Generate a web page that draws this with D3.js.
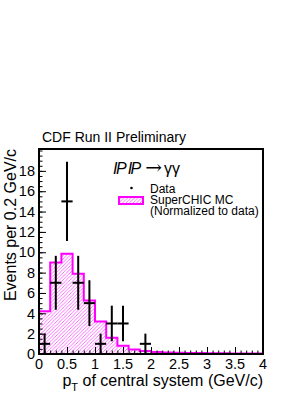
<!DOCTYPE html>
<html>
<head>
<meta charset="utf-8">
<script src="https://cdn.jsdelivr.net/npm/d3@7"></script>
<style>
  body { margin: 0; background: #fff; }
  text { font-family: "Liberation Sans", Arial, sans-serif; }
</style>
</head>
<body>
<svg id="chart" width="305" height="395"></svg>
<script>
// MC histogram, 0.2 GeV/c bins from 0 to 4
const binEdgesStart = [0, 0.2, 0.4, 0.6, 0.8, 1.0, 1.2, 1.4, 1.6, 1.8,
                       2.0, 2.2, 2.4, 2.6, 2.8, 3.0, 3.2, 3.4, 3.6, 3.8];
const mcValues = [4.2, 9.0, 9.85, 7.9, 5.25, 3.2, 1.6, 0.8, 0.45, 0.3,
                  0.2, 0.15, 0.12, 0.1, 0.1, 0.08, 0.07, 0.06, 0.05, 0.05];

// data points
const dataX = [0.1, 0.3, 0.5, 0.7, 0.9, 1.1, 1.3, 1.5, 1.9];
const dataY = [1, 7, 15, 7, 5, 1, 3, 3, 1];
const dataErr = [1, 2.65, 3.9, 2.65, 2.25, 1, 1.75, 1.75, 1];

const xTicks = [0, 0.5, 1, 1.5, 2, 2.5, 3, 3.5, 4];
const xTickLabels = ["0", "0.5", "1", "1.5", "2", "2.5", "3", "3.5", "4"];
const yTicks = [0, 2, 4, 6, 8, 10, 12, 14, 16, 18];

const binW = 0.2;
const svg = d3.select("#chart");

const x = d3.scaleLinear().domain([0, 4]).range([39, 263]);
const y = d3.scaleLinear().domain([0, 20.15]).range([354, 149]);

// hatch pattern
const defs = svg.append("defs");
const pat = defs.append("pattern")
  .attr("id", "hatch")
  .attr("patternUnits", "userSpaceOnUse")
  .attr("width", 3.5).attr("height", 3.5);
pat.append("path")
  .attr("d", "M-1,1 l2,-2 M0,3.5 l3.5,-3.5 M2.5,4.5 l2,-2")
  .attr("stroke", "#f0f").attr("stroke-width", 0.8).attr("opacity", 0.7);

// histogram step path
const steps = [[0, 0]];
binEdgesStart.forEach((b, i) => {
  steps.push([b, mcValues[i]]);
  steps.push([b + binW, mcValues[i]]);
});
steps.push([4, 0]);
const line = d3.line().x(d => x(d[0])).y(d => y(d[1]));

svg.append("path")
  .attr("d", line(steps) + "Z")
  .attr("fill", "url(#hatch)")
  .attr("stroke", "none");
svg.append("path")
  .attr("d", line(steps))
  .attr("fill", "none")
  .attr("stroke", "#f0f")
  .attr("stroke-width", 2);

// data error crosses
const pts = svg.append("g");
dataX.forEach((v, i) => {
  pts.append("line")
    .attr("x1", x(v - binW / 2)).attr("x2", x(v + binW / 2))
    .attr("y1", y(dataY[i])).attr("y2", y(dataY[i]))
    .attr("stroke", "#000").attr("stroke-width", 2);
  pts.append("line")
    .attr("x1", x(v)).attr("x2", x(v))
    .attr("y1", y(Math.max(0, dataY[i] - dataErr[i]))).attr("y2", y(dataY[i] + dataErr[i]))
    .attr("stroke", "#000").attr("stroke-width", 2);
});

// axes: inner ticks
const xAxis = d3.axisTop(x).tickValues(xTicks).tickSize(7).tickFormat("");
svg.append("g").attr("transform", "translate(0,354)").call(xAxis)
  .call(g => g.select(".domain").remove());
const xMinor = d3.axisTop(x).tickValues(d3.range(0, 4.01, 0.1)).tickSize(3.5).tickFormat("");
svg.append("g").attr("transform", "translate(0,354)").call(xMinor)
  .call(g => g.select(".domain").remove());

const yAxis = d3.axisRight(y).tickValues(yTicks).tickSize(7).tickFormat("");
svg.append("g").attr("transform", "translate(39,0)").call(yAxis)
  .call(g => g.select(".domain").remove());
const yMinor = d3.axisRight(y).tickValues(d3.range(0, 20.1, 0.5)).tickSize(3.5).tickFormat("");
svg.append("g").attr("transform", "translate(39,0)").call(yMinor)
  .call(g => g.select(".domain").remove());

svg.selectAll(".tick line").attr("stroke", "#000").attr("stroke-width", 1);

// tick labels
svg.append("g").selectAll("text").data(xTicks).join("text")
  .attr("x", d => x(d)).attr("y", 369)
  .attr("text-anchor", "middle").attr("font-size", 14.5)
  .text((d, i) => xTickLabels[i]);
svg.append("g").selectAll("text").data(yTicks).join("text")
  .attr("x", 35).attr("y", d => y(d) + 5.2)
  .attr("text-anchor", "end").attr("font-size", 14.5)
  .text(d => d);

// frame
svg.append("rect")
  .attr("x", 39).attr("y", 149).attr("width", 224).attr("height", 205)
  .attr("fill", "none").attr("stroke", "#000").attr("stroke-width", 2);

// axis titles
const xt = svg.append("text").attr("x", 263).attr("y", 386)
  .attr("text-anchor", "end").attr("font-size", 16);
xt.append("tspan").text("p");
xt.append("tspan").attr("font-size", 11).attr("dy", 5).text("T");
xt.append("tspan").attr("dy", -5).text(" of central system (GeV/c)");

svg.append("text")
  .attr("transform", "translate(16,149) rotate(-90)")
  .attr("text-anchor", "end").attr("font-size", 16)
  .text("Events per 0.2 GeV/c");

// title
svg.append("text").attr("x", 42).attr("y", 142).attr("font-size", 14)
  .text("CDF Run II Preliminary");

// process label
const pl = svg.append("text").attr("x", 113).attr("y", 174)
  .attr("font-family", "Liberation Serif, Times New Roman, serif")
  .attr("font-style", "italic").attr("font-size", 16);
pl.append("tspan").text("I");
pl.append("tspan").attr("dx", -1.5).text("P");
pl.append("tspan").attr("dx", 1).text("I");
pl.append("tspan").attr("dx", -1.5).text("P");
pl.append("tspan").attr("font-style", "normal").attr("dx", 4)
  .attr("font-family", "DejaVu Serif, serif").attr("font-size", 20).text("\u2192");
pl.append("tspan").attr("font-style", "normal").attr("dx", 2).text("\u03b3\u03b3");

// legend
svg.append("circle").attr("cx", 131.5).attr("cy", 188).attr("r", 1.3).attr("fill", "#000");
svg.append("rect").attr("x", 119).attr("y", 197).attr("width", 24).attr("height", 7)
  .attr("fill", "url(#hatch)").attr("stroke", "#f0f").attr("stroke-width", 2);
svg.append("text").attr("x", 150).attr("y", 193).attr("font-size", 12).text("Data");
svg.append("text").attr("x", 150).attr("y", 204).attr("font-size", 12).text("SuperCHIC MC");
svg.append("text").attr("x", 150).attr("y", 215).attr("font-size", 12).text("(Normalized to data)");
</script>
</body>
</html>
